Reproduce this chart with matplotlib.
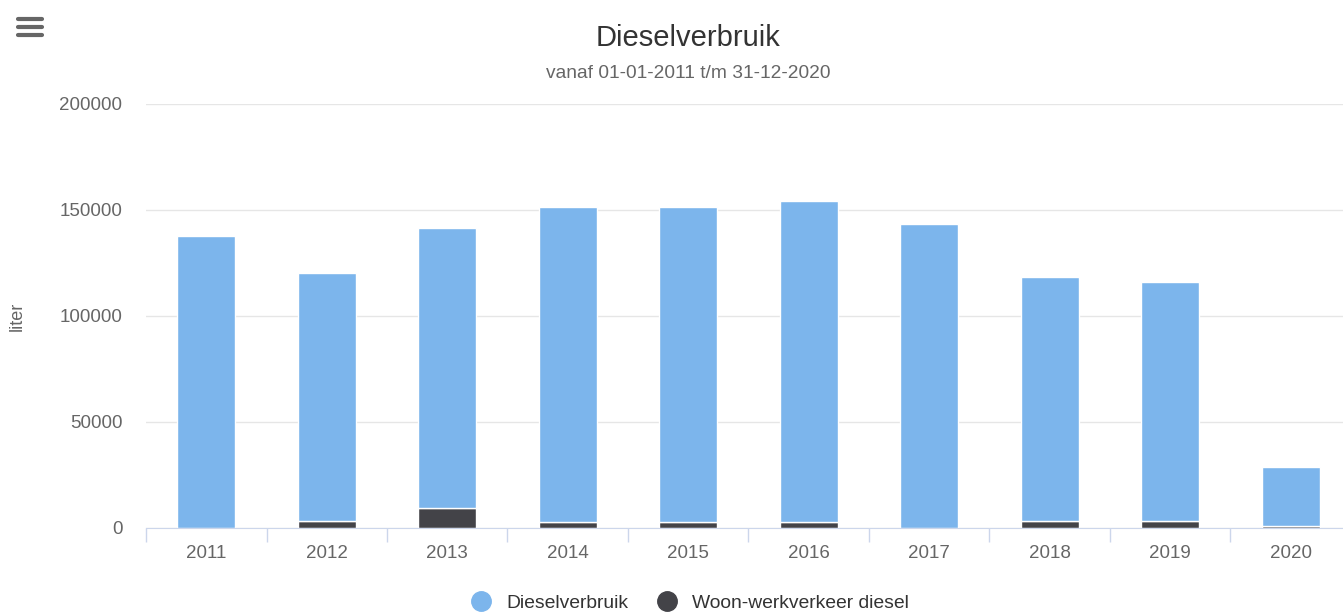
import matplotlib.pyplot as plt
from matplotlib.lines import Line2D
import numpy as np

plt.rcParams['font.family'] = ['Liberation Sans', 'DejaVu Sans']

# data
jaren = ['2011', '2012', '2013', '2014', '2015', '2016', '2017', '2018', '2019', '2020']
woon_werk = [0, 3500, 9500, 2800, 2800, 2800, 0, 3500, 3500, 1000]
diesel = [137600, 117000, 131800, 148400, 148400, 151400, 143600, 114700, 112400, 28000]

blauw = '#7cb5ec'
donker = '#434348'

fig = plt.figure(figsize=(13.43, 6.12), dpi=100)
# plotgebied loopt iets voorbij de rechterrand
ax = fig.add_axes([146 / 1343, 1 - 528 / 612, 1205 / 1343, (528 - 104) / 612])

x = np.arange(len(jaren))
ax.bar(x, woon_werk, width=0.48, color=donker, edgecolor='white', linewidth=1, zorder=3)
ax.bar(x, diesel, width=0.48, bottom=woon_werk, color=blauw, edgecolor='white', linewidth=1, zorder=3)

ax.set_xlim(-0.5, len(jaren) - 0.5)
ax.set_ylim(0, 200000)
ax.set_yticks([0, 50000, 100000, 150000, 200000])
ax.set_yticklabels(['0', '50000', '100000', '150000', '200000'])
ax.grid(axis='y', color='#e6e6e6', linewidth=1, zorder=0)
ax.tick_params(axis='y', length=0, pad=17, labelsize=13.5, labelcolor='#666666')

# categorie-ticks op de grenzen
ax.set_xticks(x)
ax.set_xticklabels(jaren)
ax.set_xticks(np.arange(-0.5, len(jaren)), minor=True)
ax.tick_params(axis='x', which='major', length=0, pad=12, labelsize=13.5, labelcolor='#666666')
ax.tick_params(axis='x', which='minor', length=10, width=1, color='#ccd6eb')

for s in ['top', 'right', 'left']:
    ax.spines[s].set_visible(False)
ax.spines['bottom'].set_color('#ccd6eb')
ax.spines['bottom'].set_zorder(4)

fig.text(17 / 1343, 1 - 316 / 612, 'liter', rotation=90, ha='center', va='center',
         fontsize=13, color='#666666')

fig.text(688 / 1343, 1 - 38 / 612, 'Dieselverbruik', ha='center', va='center', fontsize=21, color='#333333')
fig.text(688 / 1343, 1 - 73 / 612, 'vanaf 01-01-2011 t/m 31-12-2020', ha='center', va='center',
         fontsize=13.8, color='#666666')

# legenda
handles = [Line2D([], [], marker='o', linestyle='', markersize=14, color=blauw),
           Line2D([], [], marker='o', linestyle='', markersize=14, color=donker)]
fig.legend(handles, ['Dieselverbruik', 'Woon-werkverkeer diesel'], loc='center',
           bbox_to_anchor=(685 / 1343, 1 - 603 / 612), ncol=2, frameon=False,
           fontsize=13.9, labelcolor='#333333', handletextpad=0.3, columnspacing=1.0)

# menu-icoon
for yy in [18.5, 26.5, 34.5]:
    fig.add_artist(Line2D([18 / 1343, 42 / 1343], [1 - yy / 612, 1 - yy / 612],
                          color='#666666', linewidth=3, solid_capstyle='round'))

fig.savefig('out.png', dpi=100)
